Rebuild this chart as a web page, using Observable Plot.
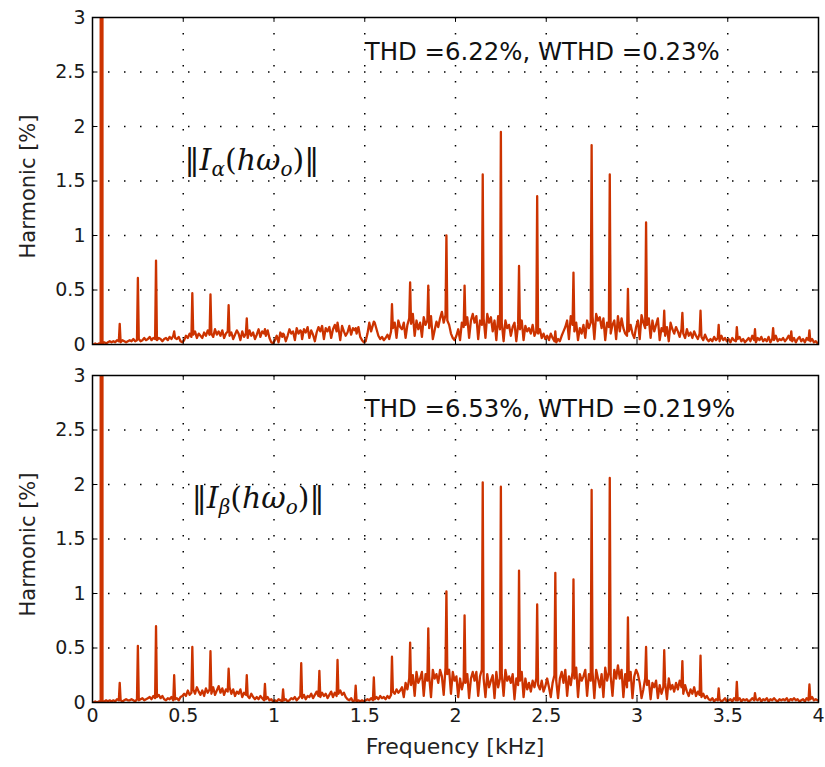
<!DOCTYPE html>
<html>
<head>
<meta charset="utf-8">
<script src="https://cdn.jsdelivr.net/npm/d3@7"></script>
<script src="https://cdn.jsdelivr.net/npm/@observablehq/plot@0.6"></script>
<style>
  html, body { margin: 0; padding: 0; background: #fff; }
  #wrap { position: relative; width: 825px; height: 767px; }
  #top, #bot { position: absolute; left: 0; }
  #top { top: 0; }
  #bot { top: 358px; }
</style>
</head>
<body>
<div id="wrap"><div id="top"></div><div id="bot"></div></div>
<script>
// ---- data ----
// noise floor sampled at 0.005 + 0.01*i kHz (i = 0..399), one row per 0.1 kHz
const noiseStart = 0.005, noiseStep = 0.01;
const topNoise = [
  0.00,0.01,0.00,0.01,0.01, 0.01,0.02,0.01,0.02,0.03,
  0.02,0.03,0.02,0.04,0.03, 0.02,0.04,0.03,0.02,0.03,
  0.04,0.03,0.05,0.03,0.04, 0.05,0.03,0.04,0.06,0.04,
  0.05,0.07,0.04,0.06,0.05, 0.04,0.06,0.05,0.03,0.05,
  0.06,0.04,0.07,0.05,0.08, 0.06,0.05,0.07,0.03,0.02,
  0.04,0.08,0.06,0.10,0.07, 0.09,0.12,0.06,0.10,0.08,
  0.06,0.11,0.08,0.13,0.09, 0.10,0.07,0.14,0.09,0.12,
  0.08,0.13,0.06,0.10,0.12, 0.08,0.11,0.05,0.09,0.13,
  0.10,0.04,0.12,0.07,0.10, 0.06,0.13,0.08,0.11,0.05,
  0.09,0.14,0.07,0.12,0.10, 0.08,0.13,0.06,0.02,0.01,
  0.04,0.08,0.02,0.11,0.07, 0.09,0.03,0.08,0.14,0.10,
  0.12,0.04,0.15,0.10,0.13, 0.05,0.14,0.11,0.16,0.06,
  0.13,0.09,0.03,0.11,0.16, 0.12,0.17,0.05,0.15,0.12,
  0.16,0.06,0.14,0.18,0.12, 0.15,0.04,0.17,0.12,0.08,
  0.11,0.17,0.09,0.15,0.13, 0.10,0.16,0.07,0.04,0.02,
  0.03,0.10,0.20,0.12,0.18, 0.20,0.14,0.08,0.05,0.07,
  0.04,0.06,0.09,0.05,0.12, 0.15,0.20,0.06,0.22,0.16,
  0.14,0.20,0.06,0.18,0.24, 0.19,0.28,0.08,0.22,0.14,
  0.20,0.07,0.25,0.18,0.22, 0.15,0.26,0.05,0.13,0.21,
  0.16,0.24,0.30,0.20,0.27, 0.22,0.18,0.10,0.06,0.04,
  0.08,0.14,0.04,0.20,0.16, 0.18,0.25,0.06,0.22,0.28,
  0.20,0.26,0.05,0.22,0.18, 0.24,0.06,0.28,0.20,0.25,
  0.12,0.22,0.04,0.26,0.14, 0.20,0.03,0.22,0.15,0.18,
  0.08,0.16,0.20,0.03,0.18, 0.14,0.22,0.04,0.17,0.12,
  0.15,0.10,0.18,0.08,0.12, 0.10,0.14,0.06,0.10,0.05,
  0.08,0.04,0.10,0.06,0.03, 0.02,0.05,0.03,0.08,0.12,
  0.16,0.22,0.05,0.26,0.18, 0.12,0.20,0.04,0.15,0.10,
  0.18,0.06,0.22,0.15,0.20, 0.26,0.05,0.28,0.22,0.25,
  0.15,0.24,0.04,0.20,0.16, 0.10,0.18,0.22,0.05,0.26,
  0.12,0.24,0.15,0.10,0.08, 0.12,0.18,0.10,0.06,0.16,
  0.22,0.05,0.27,0.20,0.15, 0.18,0.24,0.06,0.22,0.12,
  0.18,0.24,0.04,0.15,0.12, 0.08,0.16,0.03,0.20,0.14,
  0.10,0.16,0.12,0.07,0.14, 0.10,0.06,0.14,0.08,0.11,
  0.06,0.12,0.08,0.05,0.10, 0.07,0.04,0.09,0.05,0.03,
  0.05,0.03,0.07,0.04,0.06, 0.03,0.08,0.04,0.06,0.03,
  0.05,0.02,0.06,0.04,0.03, 0.05,0.07,0.03,0.05,0.02,
  0.04,0.06,0.03,0.08,0.04, 0.02,0.06,0.04,0.07,0.03,
  0.05,0.03,0.07,0.02,0.05, 0.04,0.08,0.03,0.05,0.04,
  0.06,0.03,0.05,0.08,0.04, 0.03,0.06,0.02,0.05,0.07,
  0.03,0.05,0.02,0.06,0.04, 0.03,0.05,0.02,0.03,0.01
];
const botNoise = [
  0.00,0.01,0.00,0.01,0.01, 0.01,0.01,0.02,0.01,0.02,
  0.01,0.02,0.01,0.03,0.02, 0.02,0.01,0.02,0.03,0.02,
  0.02,0.03,0.02,0.01,0.03, 0.02,0.03,0.04,0.02,0.03,
  0.04,0.05,0.03,0.06,0.04, 0.05,0.07,0.04,0.06,0.03,
  0.02,0.04,0.03,0.05,0.02, 0.03,0.04,0.02,0.05,0.06,
  0.08,0.06,0.11,0.07,0.09, 0.12,0.08,0.14,0.10,0.07,
  0.11,0.06,0.13,0.09,0.12, 0.08,0.14,0.07,0.11,0.15,
  0.09,0.13,0.07,0.12,0.10, 0.14,0.08,0.12,0.06,0.10,
  0.08,0.12,0.05,0.09,0.07, 0.06,0.04,0.08,0.05,0.03,
  0.05,0.03,0.06,0.04,0.02, 0.03,0.05,0.02,0.03,0.01,
  0.02,0.01,0.03,0.02,0.01, 0.02,0.03,0.01,0.02,0.04,
  0.03,0.05,0.02,0.04,0.06, 0.04,0.07,0.03,0.06,0.05,
  0.08,0.04,0.07,0.10,0.06, 0.05,0.09,0.06,0.08,0.04,
  0.07,0.10,0.05,0.09,0.06, 0.08,0.11,0.07,0.09,0.05,
  0.03,0.02,0.04,0.01,0.02, 0.01,0.02,0.01,0.02,0.01,
  0.02,0.03,0.02,0.04,0.02, 0.03,0.05,0.03,0.06,0.04,
  0.05,0.03,0.06,0.04,0.07, 0.10,0.08,0.12,0.09,0.11,
  0.14,0.05,0.18,0.12,0.22, 0.16,0.25,0.06,0.28,0.18,
  0.22,0.28,0.06,0.26,0.20, 0.24,0.05,0.30,0.22,0.26,
  0.18,0.30,0.24,0.07,0.32, 0.26,0.30,0.08,0.28,0.20,
  0.24,0.05,0.22,0.12,0.20, 0.18,0.26,0.04,0.22,0.28,
  0.20,0.28,0.06,0.24,0.30, 0.22,0.05,0.26,0.14,0.20,
  0.25,0.04,0.28,0.14,0.22, 0.26,0.06,0.30,0.20,0.24,
  0.18,0.26,0.03,0.22,0.16, 0.20,0.28,0.05,0.22,0.12,
  0.18,0.10,0.20,0.14,0.22, 0.16,0.12,0.20,0.10,0.15,
  0.22,0.14,0.05,0.18,0.25, 0.20,0.04,0.22,0.28,0.18,
  0.30,0.06,0.24,0.16,0.28, 0.22,0.32,0.05,0.26,0.20,
  0.24,0.30,0.06,0.26,0.20, 0.28,0.04,0.30,0.22,0.14,
  0.26,0.05,0.32,0.20,0.28, 0.24,0.06,0.30,0.22,0.34,
  0.22,0.30,0.05,0.26,0.14, 0.20,0.28,0.04,0.24,0.30,
  0.26,0.18,0.04,0.12,0.22, 0.16,0.20,0.03,0.18,0.14,
  0.20,0.04,0.16,0.08,0.14, 0.18,0.03,0.22,0.12,0.16,
  0.10,0.18,0.12,0.20,0.14, 0.08,0.16,0.10,0.06,0.12,
  0.08,0.14,0.06,0.10,0.07, 0.05,0.08,0.04,0.06,0.03,
  0.02,0.04,0.01,0.03,0.02, 0.03,0.01,0.02,0.04,0.01,
  0.02,0.03,0.01,0.04,0.02, 0.02,0.04,0.01,0.03,0.02,
  0.03,0.01,0.02,0.04,0.02, 0.03,0.02,0.04,0.01,0.03,
  0.02,0.04,0.01,0.03,0.02, 0.04,0.02,0.01,0.03,0.02,
  0.03,0.02,0.04,0.01,0.03, 0.02,0.04,0.02,0.03,0.01,
  0.02,0.03,0.01,0.04,0.02, 0.03,0.05,0.02,0.03,0.02
];
const harmonicFreqs = [0.05,0.15,0.25,0.35,0.45,0.55,0.65,0.75,0.85,0.95,1.05,1.15,1.25,1.35,1.45,1.55,1.65,1.75,1.85,1.95,
  2.05,2.15,2.25,2.35,2.45,2.55,2.65,2.75,2.85,2.95,3.05,3.15,3.25,3.35,3.45,3.55,3.65,3.75,3.85,3.95];
const topPeaks = [100,0.19,0.61,0.77,0.12,0.47,0.46,0.36,0.24,0.14,0.10,0.12,0.14,0.20,0.15,0.21,0.37,0.57,0.54,1.00,
  0.54,1.56,1.95,0.72,1.36,0.12,0.66,1.83,1.56,0.51,1.12,0.31,0.29,0.31,0.18,0.16,0.14,0.15,0.12,0.13];
const botPeaks = [100,0.18,0.52,0.70,0.25,0.51,0.47,0.31,0.25,0.17,0.12,0.36,0.29,0.39,0.155,0.23,0.42,0.55,0.68,1.02,
  0.80,2.02,1.98,1.21,0.90,1.19,1.13,1.95,2.06,0.78,0.51,0.48,0.38,0.43,0.13,0.19,0.085,0.03,0.03,0.165];
const xTicks = [0,0.5,1,1.5,2,2.5,3,3.5,4];
const xTickLabels = ["0","0.5","1","1.5","2","2.5","3","3.5","4"];
const yTicks = [0,0.5,1,1.5,2,2.5,3];
const yTickLabels = ["0","0.5","1","1.5","2","2.5","3"];
const gridX = [0.5,1,1.5,2,2.5,3,3.5];
const gridY = [0.5,1,1.5,2,2.5];
const thdTexts = ["THD =6.22%, WTHD =0.23%", "THD =6.53%, WTHD =0.219%"];
const subscripts = ["α", "β"];
const yLabel = "Harmonic [%]";
const xLabel = "Frequency [kHz]";

// ---- build ----
function series(noise, peaks) {
  const pts = noise.map((v, i) => ({f: noiseStart + i * noiseStep, v}));
  harmonicFreqs.forEach((f, i) => pts.push({f, v: peaks[i]}));
  return pts.sort((a, b) => a.f - b.f);
}
const color = "#cc3300";
const sansFont = "'DejaVu Sans', sans-serif";

function panel(noise, peaks, idx, isBottom, mathPos) {
  const data = series(noise, peaks);
  const marks = [
    Plot.ruleX(gridX, {stroke: "#000", strokeWidth: 1.5, strokeDasharray: "1.5,14.5"}),
    Plot.ruleY(gridY, {stroke: "#000", strokeWidth: 1.5, strokeDasharray: "1.5,14.5"}),
    Plot.lineY(data, {x: "f", y: "v", stroke: color, strokeWidth: 2.3, clip: true, curve: "linear"}),
    Plot.ruleY(yTicks, {x1: 0, x2: 0.03, stroke: "#000", strokeWidth: 1}),
    Plot.ruleY(yTicks, {x1: 3.97, x2: 4, stroke: "#000", strokeWidth: 1}),
    Plot.ruleX(xTicks, {y1: 0, y2: 0.045, stroke: "#000", strokeWidth: 1}),
    Plot.ruleX(xTicks, {y1: 2.955, y2: 3, stroke: "#000", strokeWidth: 1}),
    Plot.frame({stroke: "#000", strokeWidth: 1.5}),
    Plot.text([thdTexts[idx]], {x: 1.5, y: isBottom ? 2.615 : 2.606, text: d => d, textAnchor: "start", lineAnchor: "bottom", fontSize: 24.4, fill: "#111"})
  ];
  const h = isBottom ? 409 : 360;
  const svg = Plot.plot({
    width: 825,
    height: h,
    marginLeft: 92,
    marginRight: 7,
    marginTop: 17,
    marginBottom: isBottom ? 65 : 16,
    style: {fontFamily: sansFont, fontSize: "19px", color: "#1a1a1a", background: "#fff"},
    x: {domain: [0, 4], ticks: xTicks, tickSize: 0, tickPadding: 6,
        tickFormat: d => xTickLabels[xTicks.indexOf(d)], label: null, axis: isBottom ? "bottom" : null},
    y: {domain: [0, 3], ticks: yTicks, tickSize: 0, tickPadding: 7,
        tickFormat: d => yTickLabels[yTicks.indexOf(d)], label: null},
    marks
  });
  const xs = svg.scale("x"), ys = svg.scale("y");
  const root = d3.select(svg);
  // y axis title
  root.append("text")
    .attr("transform", `translate(28,${ys.apply(1.5) + 6}) rotate(-90)`)
    .attr("text-anchor", "middle").attr("dy", "0.35em")
    .attr("font-family", sansFont).attr("font-size", 21).attr("fill", "#222")
    .text(yLabel);
  if (isBottom) {
    root.append("text")
      .attr("x", xs.apply(2)).attr("y", ys.apply(0) + 44)
      .attr("text-anchor", "middle").attr("dy", "0.35em")
      .attr("font-family", sansFont).attr("font-size", 22).attr("fill", "#222")
      .text(xLabel);
  }
  // math label ||I_sub(h ω_o)||
  const t = root.append("text")
    .attr("x", xs.apply(mathPos[0])).attr("y", ys.apply(mathPos[1]))
    .attr("text-anchor", "start")
    .attr("font-family", "'DejaVu Serif', serif")
    .attr("font-size", 30).attr("fill", "#111");
  t.append("tspan").text("‖");
  t.append("tspan").attr("font-style", "italic").text("I");
  t.append("tspan").attr("font-style", "italic").attr("font-size", 20).attr("dy", 6).text(subscripts[idx]);
  t.append("tspan").attr("dy", -6).text("(");
  t.append("tspan").attr("font-style", "italic").text("hω");
  t.append("tspan").attr("font-style", "italic").attr("font-size", 20).attr("dy", 6).text("o");
  t.append("tspan").attr("dy", -6).text(")‖");
  return svg;
}

document.getElementById("top").appendChild(panel(topNoise, topPeaks, 0, false, [0.51, 1.6]));
document.getElementById("bot").appendChild(panel(botNoise, botPeaks, 1, true, [0.55, 1.78]));
</script>
</body>
</html>
